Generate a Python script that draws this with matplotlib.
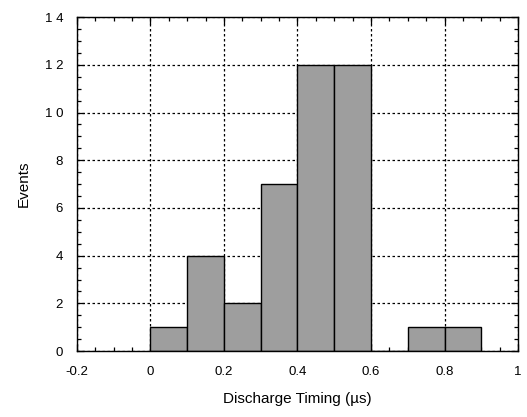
import numpy as np
import matplotlib.pyplot as plt
from matplotlib.ticker import MultipleLocator

plt.rcParams['font.family'] = ['Liberation Sans', 'DejaVu Sans']

# histogram of discharge timing, bins of 0.1 us
bin_edges = [0.0, 0.1, 0.2, 0.3, 0.4, 0.5, 0.6, 0.7, 0.8, 0.9]
counts = [1, 4, 2, 7, 12, 12, 0, 1, 1]

x_ticks = [-0.2, 0, 0.2, 0.4, 0.6, 0.8, 1]
x_labels = ['-0.2', '0', '0.2', '0.4', '0.6', '0.8', '1']
y_ticks = [0, 2, 4, 6, 8, 10, 12, 14]
y_labels = ['0', '2', '4', '6', '8', '1 0', '1 2', '1 4']

fig = plt.figure(figsize=(5.27, 4.17), dpi=100)
ax = fig.add_axes([0.146, 0.158, 0.837, 0.801])

lefts = np.array(bin_edges[:-1])
widths = np.diff(bin_edges)
ax.bar(lefts, counts, width=widths, align='edge', color='#9e9e9e',
       edgecolor='black', linewidth=1.0, zorder=2)

ax.set_xlim(-0.2, 1.0)
ax.set_ylim(0, 14)
ax.set_xticks(x_ticks)
ax.set_xticklabels(x_labels)
ax.set_yticks(y_ticks)
ax.set_yticklabels(y_labels)
ax.xaxis.set_minor_locator(MultipleLocator(0.05))
ax.yaxis.set_minor_locator(MultipleLocator(0.5))

ax.tick_params(which='both', direction='in', top=True, right=True,
               labelsize=9.5, width=0.9)
ax.tick_params(which='major', length=5)
ax.tick_params(axis='x', which='major', pad=11)
ax.tick_params(axis='y', which='major', pad=10)
ax.tick_params(which='minor', length=3)

ax.grid(True, which='major', linestyle=(0, (2, 2)), color='black',
        linewidth=0.9, zorder=0)
ax.set_axisbelow(True)

for s in ax.spines.values():
    s.set_linewidth(1.0)

ax.set_xlabel('Discharge Timing (\u00b5s)', fontsize=11, labelpad=10)
ax.set_ylabel('Events', fontsize=11, labelpad=10)

fig.savefig('out.png', dpi=100)
